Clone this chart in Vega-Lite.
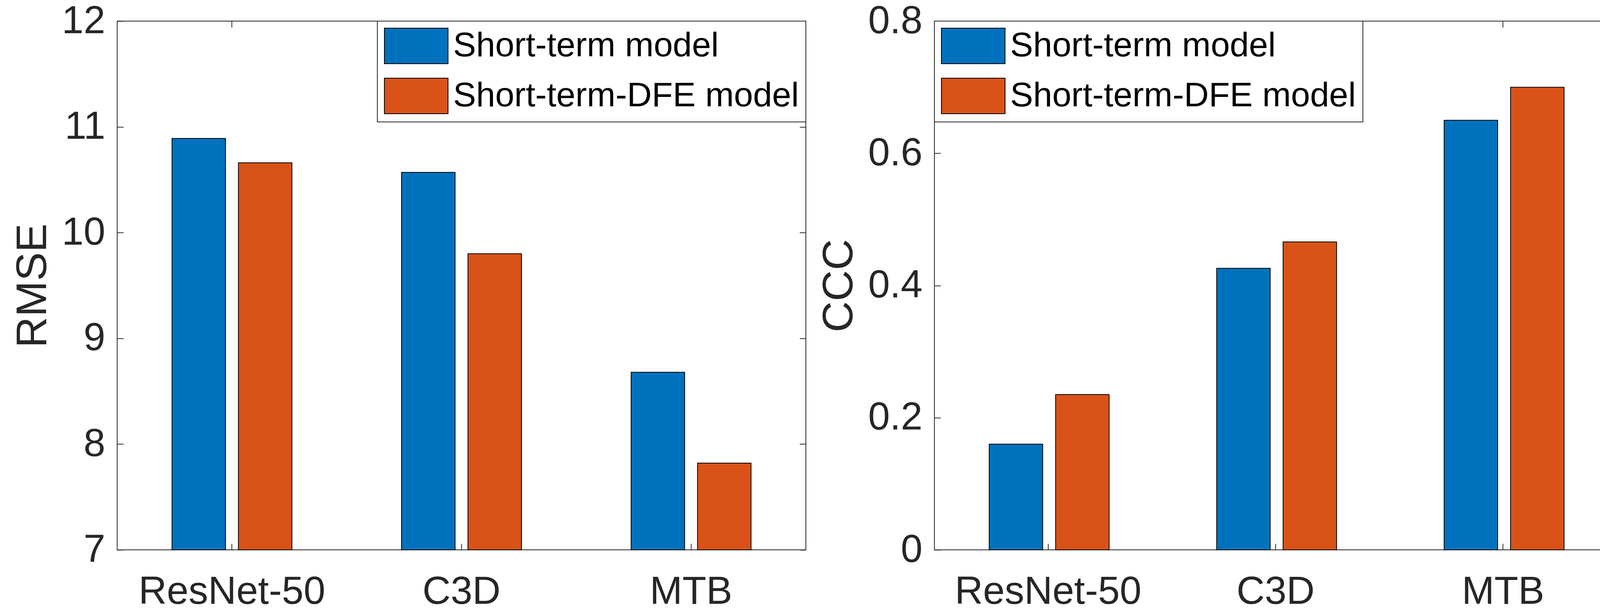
{
  "$schema": "https://vega.github.io/schema/vega-lite/v6.json",
  "padding": {"left": 28, "top": 3, "right": 5, "bottom": 0},
  "background": "white",
  "datasets": {
    "rmse": [
      {"method": "ResNet-50", "model": "Short-term model", "value": 10.89},
      {"method": "ResNet-50", "model": "Short-term-DFE model", "value": 10.66},
      {"method": "C3D", "model": "Short-term model", "value": 10.57},
      {"method": "C3D", "model": "Short-term-DFE model", "value": 9.80},
      {"method": "MTB", "model": "Short-term model", "value": 8.68},
      {"method": "MTB", "model": "Short-term-DFE model", "value": 7.82}
    ],
    "ccc": [
      {"method": "ResNet-50", "model": "Short-term model", "value": 0.160},
      {"method": "ResNet-50", "model": "Short-term-DFE model", "value": 0.235},
      {"method": "C3D", "model": "Short-term model", "value": 0.426},
      {"method": "C3D", "model": "Short-term-DFE model", "value": 0.466},
      {"method": "MTB", "model": "Short-term model", "value": 0.650},
      {"method": "MTB", "model": "Short-term-DFE model", "value": 0.700}
    ]
  },
  "hconcat": [
    {
      "width": 1763,
      "height": 1353,
      "data": {"name": "rmse"},
      "encoding": {
        "xOffset": {"field": "model", "type": "nominal", "sort": ["Short-term model", "Short-term-DFE model"], "scale": {"paddingInner": 0.194, "paddingOuter": 0.8255}},
        "y2": {"datum": 7},
        "color": {
          "field": "model", "type": "nominal", "sort": ["Short-term model", "Short-term-DFE model"],
          "scale": {"domain": ["Short-term model", "Short-term-DFE model"], "range": ["#0072BD", "#D95319"]},
          "legend": {"orient": "top-right", "offset": 0, "title": null, "padding": 17, "strokeColor": "#262626", "fillColor": "white",
            "symbolType": "M-1.79,-1H1.79V1H-1.79Z", "symbolSize": 8281, "symbolOffset": 36, "symbolStrokeColor": "black", "symbolStrokeWidth": 2, "symbolOpacity": 1,
            "labelFontSize": 88, "labelColor": "black", "labelFont": "Liberation Sans", "labelOffset": 48, "rowPadding": 29, "labelLimit": 3000}
        }
      },
      "layer": [
        {
          "mark": {"type": "bar", "stroke": "black", "strokeWidth": 2},
          "encoding": {
            "x": {"field": "method", "type": "nominal", "sort": ["ResNet-50", "C3D", "MTB"], "scale": {"paddingInner": 0, "paddingOuter": 0},
              "axis": {"orient": "bottom", "title": null, "labelAngle": 0, "bandPosition": 0.5}},
            "y": {"field": "value", "type": "quantitative", "scale": {"domain": [7, 12], "nice": false, "zero": false},
              "axis": {"orient": "left", "title": "RMSE", "values": [7, 8, 9, 10, 11, 12], "format": "~g"}}
          }
        },
        {
          "mark": {"type": "bar", "opacity": 0},
          "encoding": {
            "x": {"field": "method", "type": "nominal", "sort": ["ResNet-50", "C3D", "MTB"],
              "axis": {"orient": "top", "title": null, "labels": false, "bandPosition": 0.5}},
            "y": {"field": "value", "type": "quantitative",
              "axis": {"orient": "right", "title": null, "labels": false, "values": [7, 8, 9, 10, 11, 12]}}
          }
        }
      ],
      "resolve": {"axis": {"x": "independent", "y": "independent"}}
    },
    {
      "width": 1747,
      "height": 1353,
      "data": {"name": "ccc"},
      "encoding": {
        "xOffset": {"field": "model", "type": "nominal", "sort": ["Short-term model", "Short-term-DFE model"], "scale": {"paddingInner": 0.194, "paddingOuter": 0.8255}},
        "y2": {"datum": 0},
        "color": {
          "field": "model", "type": "nominal", "sort": ["Short-term model", "Short-term-DFE model"],
          "scale": {"domain": ["Short-term model", "Short-term-DFE model"], "range": ["#0072BD", "#D95319"]},
          "legend": {"orient": "top-left", "offset": 0, "title": null, "padding": 17, "strokeColor": "#262626", "fillColor": "white",
            "symbolType": "M-1.79,-1H1.79V1H-1.79Z", "symbolSize": 8281, "symbolOffset": 36, "symbolStrokeColor": "black", "symbolStrokeWidth": 2, "symbolOpacity": 1,
            "labelFontSize": 88, "labelColor": "black", "labelFont": "Liberation Sans", "labelOffset": 48, "rowPadding": 29, "labelLimit": 3000}
        }
      },
      "layer": [
        {
          "mark": {"type": "bar", "stroke": "black", "strokeWidth": 2},
          "encoding": {
            "x": {"field": "method", "type": "nominal", "sort": ["ResNet-50", "C3D", "MTB"], "scale": {"paddingInner": 0, "paddingOuter": 0},
              "axis": {"orient": "bottom", "title": null, "labelAngle": 0, "bandPosition": 0.5}},
            "y": {"field": "value", "type": "quantitative", "scale": {"domain": [0, 0.8], "nice": false, "zero": true},
              "axis": {"orient": "left", "title": "CCC", "values": [0, 0.2, 0.4, 0.6, 0.8], "format": "~g"}}
          }
        },
        {
          "mark": {"type": "bar", "opacity": 0},
          "encoding": {
            "x": {"field": "method", "type": "nominal", "sort": ["ResNet-50", "C3D", "MTB"],
              "axis": {"orient": "top", "title": null, "labels": false, "bandPosition": 0.5}},
            "y": {"field": "value", "type": "quantitative",
              "axis": {"orient": "right", "title": null, "labels": false, "values": [0, 0.2, 0.4, 0.6, 0.8]}}
          }
        }
      ],
      "resolve": {"axis": {"x": "independent", "y": "independent"}}
    }
  ],
  "spacing": 27,
  "resolve": {"scale": {"color": "independent"}, "legend": {"color": "independent"}},
  "config": {
    "font": "Liberation Sans",
    "view": {"stroke": "#262626", "strokeWidth": 2},
    "axis": {
      "domain": false, "grid": false, "ticks": true, "tickSize": -16, "tickColor": "#262626", "tickWidth": 2,
      "minExtent": 0,
      "labelFont": "Liberation Sans", "labelFontSize": 100, "labelColor": "#262626", "labelOverlap": false, "labelFlush": false, "labelLimit": 0,
      "titleFont": "Liberation Sans", "titleFontSize": 110, "titleFontWeight": "normal", "titleColor": "#262626", "titlePadding": 17
    },
    "axisX": {"labelPadding": 74, "minExtent": 0},
    "axisY": {"labelPadding": 47, "minExtent": 0},
    "legend": {"strokeWidth": 2}
  }
}
